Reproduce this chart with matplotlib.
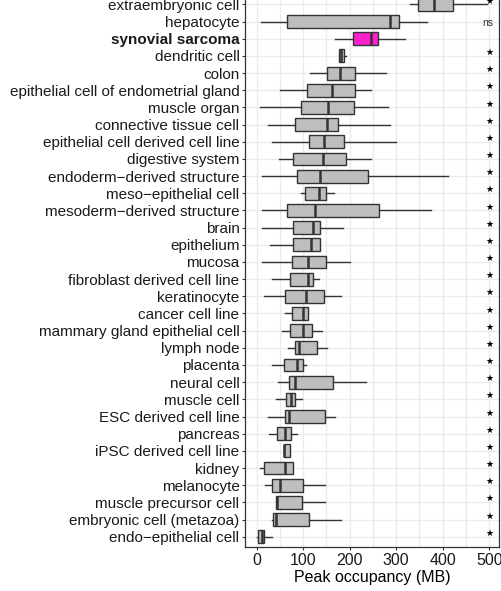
import matplotlib.pyplot as plt
import numpy as np

# Peak occupancy box statistics (MB) per biosample type, listed top to bottom
categories = [
    "extraembryonic cell", "hepatocyte", "synovial sarcoma", "dendritic cell", "colon",
    "epithelial cell of endometrial gland", "muscle organ", "connective tissue cell",
    "epithelial cell derived cell line", "digestive system", "endoderm\u2212derived structure",
    "meso\u2212epithelial cell", "mesoderm\u2212derived structure", "brain", "epithelium", "mucosa",
    "fibroblast derived cell line", "keratinocyte", "cancer cell line",
    "mammary gland epithelial cell", "lymph node", "placenta", "neural cell", "muscle cell",
    "ESC derived cell line", "pancreas", "iPSC derived cell line", "kidney", "melanocyte",
    "muscle precursor cell", "embryonic cell (metazoa)", "endo\u2212epithelial cell",
]
whisker_lo = [329, 9, 169, 176, 115, 51, 7, 24, 33, 49, 11, 96, 12, 12, 29, 11,
              34, 16, 61, 54, 68, 33, 47, 41, 25, 27, 58, 7, 17, 41, 34, 1]
q1 = [346, 66, 207, 176, 151, 108, 96, 82, 113, 79, 87, 104, 65, 79, 79, 76,
      71, 61, 75, 72, 83, 58, 70, 63, 61, 44, 58, 15, 34, 41, 36, 4]
median = [382, 286, 246, 181, 179, 163, 153, 151, 145, 142, 136, 133, 126, 122, 116, 111,
          110, 106, 99, 99, 92, 87, 82, 73, 69, 61, 59, 60, 51, 44, 41, 11]
q3 = [423, 305, 261, 187, 212, 211, 210, 175, 188, 193, 239, 150, 263, 136, 136, 149,
      122, 144, 111, 120, 130, 100, 164, 82, 148, 74, 72, 78, 100, 97, 112, 16]
whisker_hi = [496, 366, 319, 193, 279, 245, 282, 286, 299, 246, 411, 166, 374, 185, 136, 200,
              134, 181, 111, 140, 152, 107, 236, 97, 169, 86, 72, 78, 148, 148, 182, 32]
signif = ["*"] * len(categories)
signif[1] = "ns"
signif[2] = ""
highlight = "synovial sarcoma"

plt.rcParams['font.family'] = ['Liberation Sans', 'DejaVu Sans']

fig = plt.figure(figsize=(5.01, 5.91), dpi=100)
ax = fig.add_axes([245 / 501, 44 / 591, 254 / 501, 552.9 / 591])

n = len(categories)
ypos = np.arange(n, 0, -1)

stats = []
for i, name in enumerate(categories):
    stats.append({"med": median[i], "q1": q1[i], "q3": q3[i],
                  "whislo": whisker_lo[i], "whishi": whisker_hi[i], "fliers": []})

bp = ax.bxp(stats, positions=ypos, vert=False, widths=0.75, patch_artist=True,
            showcaps=False, showfliers=False,
            boxprops=dict(edgecolor="#333333", linewidth=1.0),
            whiskerprops=dict(color="#333333", linewidth=1.0),
            medianprops=dict(color="#333333", linewidth=1.8),
            zorder=3)
for name, box in zip(categories, bp["boxes"]):
    box.set_facecolor("#ff1fcf" if name == highlight else "#bebebe")

# significance labels versus synovial sarcoma
for y, lab in zip(ypos, signif):
    if lab == "*":
        ax.text(500, y + 0.2, "\u2605", ha="center", va="center", fontsize=6.5,
                color="black", family="DejaVu Sans", clip_on=False)
    elif lab:
        ax.text(497, y - 0.08, lab, ha="center", va="center", fontsize=7.5, color="#333333")

ax.set_xlim(-25, 521)
ax.set_ylim(0.4, n + 0.6)
ax.set_xticks([0, 100, 200, 300, 400, 500])
ax.set_xticks([50, 150, 250, 350, 450], minor=True)
ax.set_yticks(ypos)
ax.set_yticklabels(categories)
for lab in ax.get_yticklabels():
    if lab.get_text() == highlight:
        lab.set_fontweight("bold")

ax.grid(True, which="both", axis="x", color="#ebebeb", linewidth=1.0, zorder=0)
ax.grid(True, which="major", axis="y", color="#ebebeb", linewidth=1.0, zorder=0)
ax.set_axisbelow(True)
ax.tick_params(axis="y", which="major", labelsize=11, length=2.5, width=0.8,
               pad=1.5, colors="#333333", labelcolor="#1a1a1a")
ax.tick_params(axis="x", which="major", labelsize=11.5, length=2.5, width=0.8,
               pad=1.5, colors="#333333", labelcolor="#1a1a1a")
ax.tick_params(axis="x", which="minor", length=0)
for side in ax.spines.values():
    side.set_color("#333333")
    side.set_linewidth(0.9)

ax.set_xlabel("Peak occupancy (MB)", fontsize=11.5, labelpad=2)

fig.savefig("out.png", dpi=100)
